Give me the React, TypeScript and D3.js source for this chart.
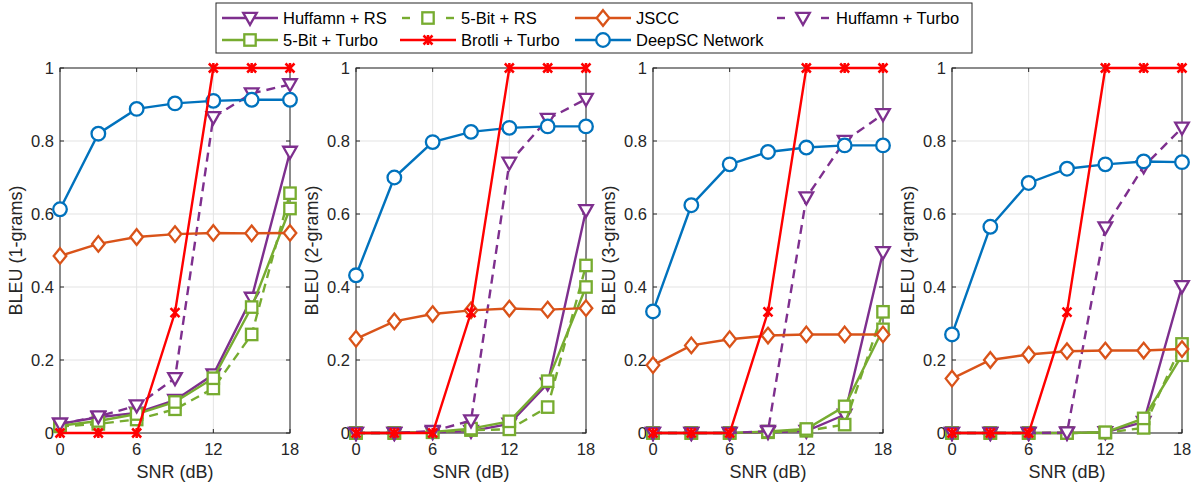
import React from 'react';
import * as d3 from 'd3';

// SNR sweep (dB) shared by every panel
const snr = [0, 3, 6, 9, 12, 15, 18];
const xTicks = [0, 6, 12, 18];
const yTicks = [0, 0.2, 0.4, 0.6, 0.8, 1];
const yLabels = ['BLEU (1-grams)', 'BLEU (2-grams)', 'BLEU (3-grams)', 'BLEU (4-grams)'];
const xLabel = 'SNR (dB)';

// BLEU scores, one row per n-gram order (1..4)
const huffmanRS = [
  [0.025, 0.043, 0.055, 0.09, 0.16, 0.37, 0.77],
  [0, 0, 0.002, 0.005, 0.025, 0.135, 0.61],
  [0, 0, 0, 0.002, 0.005, 0.05, 0.495],
  [0, 0, 0, 0, 0.002, 0.03, 0.402],
];
const fiveBitRS = [
  [0.018, 0.025, 0.037, 0.065, 0.122, 0.27, 0.657],
  [0, 0, 0.002, 0.008, 0.01, 0.071, 0.459],
  [0, 0, 0, 0.002, 0.006, 0.023, 0.332],
  [0, 0, 0, 0, 0.001, 0.014, 0.244],
];
const fiveBitTurbo = [
  [0.02, 0.033, 0.052, 0.085, 0.15, 0.345, 0.615],
  [0, 0, 0.003, 0.012, 0.032, 0.142, 0.4],
  [0, 0, 0, 0.004, 0.011, 0.073, 0.284],
  [0, 0, 0, 0, 0.002, 0.04, 0.213],
];
const huffmanTurbo = [
  [0.025, 0.045, 0.075, 0.15, 0.865, 0.93, 0.955],
  [0, 0, 0.005, 0.034, 0.74, 0.86, 0.915],
  [0, 0, 0, 0.005, 0.645, 0.8, 0.873],
  [0, 0, 0, 0.001, 0.563, 0.73, 0.836],
];
const jscc = [
  [0.485, 0.518, 0.537, 0.545, 0.548, 0.547, 0.548],
  [0.258, 0.306, 0.326, 0.336, 0.341, 0.338, 0.342],
  [0.186, 0.24, 0.257, 0.267, 0.27, 0.27, 0.27],
  [0.149, 0.2, 0.215, 0.224, 0.226, 0.226, 0.23],
];
const deepSC = [
  [0.613, 0.82, 0.888, 0.903, 0.91, 0.913, 0.913],
  [0.432, 0.7, 0.797, 0.825, 0.836, 0.84, 0.84],
  [0.333, 0.624, 0.736, 0.77, 0.782, 0.788, 0.788],
  [0.27, 0.565, 0.685, 0.724, 0.736, 0.744, 0.742],
];
const brotliTurbo = [
  [0, 0, 0, 0.33, 1, 1, 1],
  [0, 0, 0, 0.33, 1, 1, 1],
  [0, 0, 0, 0.332, 1, 1, 1],
  [0, 0, 0, 0.331, 1, 1, 1],
];

type Marker = 'triangle' | 'square' | 'diamond' | 'circle' | 'star';
interface Series {
  name: string;
  values: number[][];
  color: string;
  dashed: boolean;
  marker: Marker;
}

const S_HUFF_RS: Series = { name: 'Huffamn + RS', values: huffmanRS, color: '#7E2F8E', dashed: false, marker: 'triangle' };
const S_5B_RS: Series = { name: '5-Bit + RS', values: fiveBitRS, color: '#77AC30', dashed: true, marker: 'square' };
const S_JSCC: Series = { name: 'JSCC', values: jscc, color: '#D95319', dashed: false, marker: 'diamond' };
const S_HUFF_TURBO: Series = { name: 'Huffamn + Turbo', values: huffmanTurbo, color: '#7E2F8E', dashed: true, marker: 'triangle' };
const S_5B_TURBO: Series = { name: '5-Bit + Turbo', values: fiveBitTurbo, color: '#77AC30', dashed: false, marker: 'square' };
const S_BROTLI: Series = { name: 'Brotli + Turbo', values: brotliTurbo, color: '#FF0000', dashed: false, marker: 'star' };
const S_DEEPSC: Series = { name: 'DeepSC Network', values: deepSC, color: '#0072BD', dashed: false, marker: 'circle' };

// plotting order (later on top)
const drawOrder = [S_HUFF_RS, S_5B_RS, S_5B_TURBO, S_HUFF_TURBO, S_JSCC, S_DEEPSC, S_BROTLI];
// legend rows
const legendRows = [
  [S_HUFF_RS, S_5B_RS, S_JSCC, S_HUFF_TURBO],
  [S_5B_TURBO, S_BROTLI, S_DEEPSC],
];

const W = 1199;
const H = 489;
const panelLefts = [60, 356, 653, 952];
const panelWidth = 230;
const plotTop = 68;
const plotBottom = 433;
const FONT = '"Liberation Sans", Arial, Helvetica, sans-serif';
const AXIS_COLOR = '#262626';
const GRID_COLOR = '#e3e3e3';
const TICK_LEN = 4;
const LINE_W = 2.4;
const MARK_W = 2.3;

function MarkerGlyph({ kind, x, y, color }: { kind: Marker; x: number; y: number; color: string }) {
  const common = { stroke: color, strokeWidth: MARK_W, fill: '#fff' };
  switch (kind) {
    case 'circle':
      return <circle cx={x} cy={y} r={6.8} {...common} />;
    case 'square':
      return <rect x={x - 5.7} y={y - 5.7} width={11.4} height={11.4} {...common} />;
    case 'diamond':
      return <path d={`M${x},${y - 7.8}L${x + 6.3},${y}L${x},${y + 7.8}L${x - 6.3},${y}Z`} {...common} />;
    case 'triangle':
      return <path d={`M${x - 6.8},${y - 5.2}L${x + 6.8},${y - 5.2}L${x},${y + 6.8}Z`} {...common} />;
    case 'star':
      return (
        <path
          d={`M${x - 4.5},${y - 4.5}L${x + 4.5},${y + 4.5}M${x - 4.5},${y + 4.5}L${x + 4.5},${y - 4.5}M${x},${y - 5}L${x},${y + 5}`}
          stroke={color}
          strokeWidth={2.5}
          fill="none"
        />
      );
  }
  return null;
}

function Panel({ index }: { index: number }) {
  const left = panelLefts[index];
  const x = d3.scaleLinear().domain([0, 18]).range([left, left + panelWidth]);
  const y = d3.scaleLinear().domain([0, 1]).range([plotBottom, plotTop]);
  const line = d3
    .line<number>()
    .x((_, i) => x(snr[i]))
    .y((v) => y(v));
  const right = left + panelWidth;

  return (
    <g>
      {/* grid */}
      {xTicks.map((t) => (
        <line key={`gx${t}`} x1={x(t)} x2={x(t)} y1={plotTop} y2={plotBottom} stroke={GRID_COLOR} strokeWidth={1} />
      ))}
      {yTicks.map((t) => (
        <line key={`gy${t}`} x1={left} x2={right} y1={y(t)} y2={y(t)} stroke={GRID_COLOR} strokeWidth={1} />
      ))}
      {/* inward ticks on all sides */}
      {xTicks.map((t) => (
        <g key={`tx${t}`}>
          <line x1={x(t)} x2={x(t)} y1={plotBottom} y2={plotBottom - TICK_LEN} stroke={AXIS_COLOR} />
          <line x1={x(t)} x2={x(t)} y1={plotTop} y2={plotTop + TICK_LEN} stroke={AXIS_COLOR} />
        </g>
      ))}
      {yTicks.map((t) => (
        <g key={`ty${t}`}>
          <line x1={left} x2={left + TICK_LEN} y1={y(t)} y2={y(t)} stroke={AXIS_COLOR} />
          <line x1={right} x2={right - TICK_LEN} y1={y(t)} y2={y(t)} stroke={AXIS_COLOR} />
        </g>
      ))}
      <rect x={left} y={plotTop} width={panelWidth} height={plotBottom - plotTop} fill="none" stroke={AXIS_COLOR} strokeWidth={1} />
      {/* tick labels */}
      {xTicks.map((t) => (
        <text key={`lx${t}`} x={x(t)} y={plotBottom + 22} textAnchor="middle" fontSize={16.5} fill={AXIS_COLOR} fontFamily={FONT}>
          {d3.format('d')(t)}
        </text>
      ))}
      {yTicks.map((t) => (
        <text key={`ly${t}`} x={left - 6} y={y(t)} dy="0.36em" textAnchor="end" fontSize={16.5} fill={AXIS_COLOR} fontFamily={FONT}>
          {t === 0 || t === 1 ? String(t) : d3.format('.1f')(t)}
        </text>
      ))}
      {/* axis labels */}
      <text x={(left + right) / 2} y={plotBottom + 45} textAnchor="middle" fontSize={18} fill={AXIS_COLOR} fontFamily={FONT}>
        {xLabel}
      </text>
      <text
        transform={`translate(${left - 38},${(plotTop + plotBottom) / 2}) rotate(-90)`}
        textAnchor="middle"
        fontSize={18}
        fill={AXIS_COLOR}
        fontFamily={FONT}
      >
        {yLabels[index]}
      </text>
      {/* series */}
      {drawOrder.map((s) => {
        const vals = s.values[index];
        return (
          <g key={s.name}>
            <path d={line(vals) || ''} fill="none" stroke={s.color} strokeWidth={LINE_W} strokeDasharray={s.dashed ? '9 6' : undefined} />
            {vals.map((v, i) => (
              <MarkerGlyph key={i} kind={s.marker} x={x(snr[i])} y={y(v)} color={s.color} />
            ))}
          </g>
        );
      })}
    </g>
  );
}

function Legend() {
  const box = { x: 216, y: 3, w: 756, h: 50 };
  const colMarkerX = [250, 428, 603, 803];
  const rowY = [18, 40];
  return (
    <g>
      <rect x={box.x} y={box.y} width={box.w} height={box.h} fill="#fff" stroke={AXIS_COLOR} strokeWidth={1} />
      {legendRows.map((row, r) =>
        row.map((s, c) => {
          const mx = colMarkerX[c];
          const my = rowY[r];
          return (
            <g key={s.name}>
              {s.dashed ? (
                <>
                  <line x1={mx - 26} x2={mx - 18} y1={my} y2={my} stroke={s.color} strokeWidth={LINE_W} />
                  <line x1={mx + 18} x2={mx + 26} y1={my} y2={my} stroke={s.color} strokeWidth={LINE_W} />
                </>
              ) : (
                <line x1={mx - 28} x2={mx + 28} y1={my} y2={my} stroke={s.color} strokeWidth={LINE_W} />
              )}
              <MarkerGlyph kind={s.marker} x={mx} y={my} color={s.color} />
              <text x={mx + 33} y={my} dy="0.36em" fontSize={16.5} fill="#000" fontFamily={FONT}>
                {s.name}
              </text>
            </g>
          );
        })
      )}
    </g>
  );
}

export default function App() {
  return (
    <svg
      width={W}
      height={H}
      viewBox={`0 0 ${W} ${H}`}
      style={{ position: 'absolute', left: 0, top: 0, background: '#fff' }}
    >
      <rect x={0} y={0} width={W} height={H} fill="#fff" />
      {panelLefts.map((_, i) => (
        <Panel key={i} index={i} />
      ))}
      <Legend />
    </svg>
  );
}
